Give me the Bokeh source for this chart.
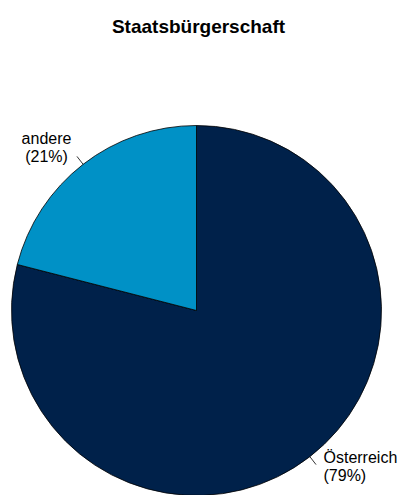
import numpy as np
from bokeh.plotting import figure
from bokeh.models import Range1d, ColumnDataSource
from bokeh.embed import file_html
from bokeh.resources import INLINE
from bokeh.core.properties import value

title_text = "Staatsbürgerschaft"
categories = ["Österreich", "andere"]
shares = [79, 21]
colors = ["#00214a", "#0091c6"]

W, H = 400, 495
p = figure(width=W, height=H, output_backend="svg", toolbar_location=None,
           x_range=Range1d(0, W), y_range=Range1d(0, H), min_border=0)
p.axis.visible = False
p.grid.visible = False
p.outline_line_color = None
p.background_fill_color = "white"

cx, cy, r = 196, H - 310, 185

# angles: start at 12 o'clock, clockwise
fr = np.array(shares, dtype=float) / sum(shares)
cum = np.concatenate([[0], np.cumsum(fr)])
top = np.pi / 2
starts = top - cum[1:] * 2 * np.pi
ends = top - cum[:-1] * 2 * np.pi
src = ColumnDataSource(dict(start=starts, end=ends, color=colors))
p.wedge(x=cx, y=cy, radius=r, start_angle="start", end_angle="end",
        fill_color="color", line_color="black", line_width=0.8, source=src)

mids = (starts + ends) / 2
# leader lines
for m in mids:
    p.line([cx + r * np.cos(m), cx + (r + 10) * np.cos(m)],
           [cy + r * np.sin(m), cy + (r + 10) * np.sin(m)],
           line_color="black", line_width=0.8)

font = value("Liberation Sans")
# label placement per slice
label_specs = [
    dict(x=323, y=H - 457, align="left"),   # Österreich
    dict(x=46, y=H - 138, align="center"),  # andere
]
for cat, s, spec in zip(categories, shares, label_specs):
    p.text(x=[spec["x"], spec["x"]], y=[spec["y"], spec["y"] - 18],
           text=[cat, f"({s}%)"], text_font=font, text_font_size="16px",
           text_align=spec["align"], text_baseline="alphabetic", text_color="black")

p.text(x=[198], y=[H - 26], text=[title_text], text_font=font,
       text_font_size="19px", text_font_style="bold", text_align="center",
       text_baseline="alphabetic", text_color="black")

open("out.html", "w").write(file_html(p, INLINE))
